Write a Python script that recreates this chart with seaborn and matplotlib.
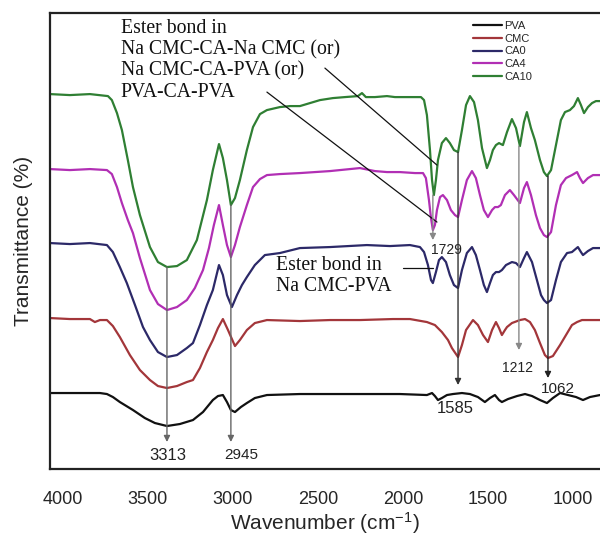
import numpy as np
import pandas as pd
import matplotlib
matplotlib.use("Agg")
import matplotlib.pyplot as plt
import seaborn as sns

# FTIR spectra (wavenumber in cm-1, transmittance in a.u., curves stacked)
wn_pva = [4076, 3900, 3782, 3741, 3706, 3665, 3588, 3518, 3459, 3388, 3312, 3235, 3176, 3118, 3088,
          3059, 3035, 3012, 2988, 2953, 2918, 2871, 2800, 2606, 2312, 2018, 1859, 1829, 1812, 1794,
          1771, 1741, 1706, 1653, 1606, 1559, 1518, 1488, 1459, 1435, 1418, 1382, 1329, 1282, 1241,
          1194, 1153, 1118, 1076, 1029, 982, 941, 900, 841]
t_pva = [76, 76, 76, 75, 72, 67, 59, 51, 46, 43, 45, 49, 57, 69, 73,
         74, 67, 59, 57, 62, 66, 71, 74, 75, 75, 75, 74, 76, 73, 69,
         71, 74, 75, 76, 75, 72, 67, 71, 74, 69, 67, 70, 73, 75, 73,
         69, 66, 71, 76, 74, 72, 69, 72, 74]

wn_cmc = [4076, 3959, 3841, 3812, 3782, 3741, 3706, 3665, 3606, 3547, 3488, 3441, 3388, 3329, 3271,
          3235, 3194, 3153, 3118, 3088, 3059, 3029, 2988, 2959, 2918, 2871, 2800, 2606, 2429, 2253,
          2059, 1959, 1859, 1812, 1771, 1735, 1712, 1676, 1653, 1629, 1588, 1559, 1529, 1500, 1476,
          1453, 1435, 1418, 1400, 1388, 1359, 1312, 1282, 1253, 1224, 1194, 1165, 1147, 1118, 1076,
          1041, 1006, 976, 947, 900, 841]
t_cmc = [151, 150, 150, 147, 149, 149, 143, 132, 114, 99, 89, 83, 81, 83, 87,
         89, 101, 117, 129, 141, 150, 139, 123, 129, 139, 146, 149, 148, 149, 149,
         150, 150, 147, 144, 137, 129, 121, 112, 124, 139, 149, 144, 134, 127, 139,
         147, 141, 134, 139, 142, 146, 149, 150, 147, 139, 126, 114, 111, 113, 124,
         134, 144, 147, 149, 149, 149]

wn_ca0 = [4076, 3959, 3841, 3741, 3706, 3665, 3624, 3576, 3529, 3488, 3441, 3388, 3329, 3271, 3235,
          3194, 3153, 3118, 3082, 3059, 3035, 3006, 2976, 2947, 2918, 2871, 2812, 2724, 2606, 2429,
          2212, 2076, 1959, 1900, 1876, 1853, 1835, 1824, 1806, 1788, 1771, 1747, 1724, 1700, 1676,
          1653, 1624, 1594, 1571, 1547, 1524, 1506, 1488, 1471, 1453, 1435, 1418, 1394, 1359, 1335,
          1312, 1288, 1271, 1241, 1212, 1188, 1171, 1153, 1129, 1100, 1071, 1035, 1006, 971, 953,
          941, 912, 882, 841]
t_ca0 = [226, 225, 226, 224, 217, 202, 186, 164, 142, 129, 117, 112, 114, 121, 126,
         144, 164, 179, 204, 194, 174, 162, 174, 184, 192, 204, 214, 216, 221, 222,
         224, 223, 224, 222, 217, 204, 189, 186, 197, 209, 212, 207, 194, 184, 181,
         199, 216, 222, 214, 199, 184, 177, 186, 194, 197, 197, 199, 204, 207, 206,
         202, 211, 217, 207, 189, 174, 169, 166, 169, 189, 207, 216, 217, 222, 217,
         214, 218, 221, 221]

wn_ca4 = [4076, 3959, 3841, 3741, 3712, 3682, 3653, 3618, 3588, 3547, 3488, 3441, 3388, 3329, 3271,
          3224, 3176, 3141, 3112, 3082, 3059, 3035, 3012, 2988, 2959, 2918, 2882, 2841, 2800, 2724,
          2606, 2429, 2253, 2165, 2094, 2018, 1929, 1882, 1865, 1847, 1835, 1824, 1812, 1800, 1782,
          1765, 1741, 1718, 1694, 1676, 1653, 1624, 1594, 1571, 1547, 1524, 1500, 1476, 1459, 1441,
          1424, 1400, 1371, 1347, 1312, 1288, 1271, 1247, 1218, 1194, 1171, 1153, 1129, 1100, 1071,
          1041, 1006, 976, 959, 941, 912, 882, 841]
t_ca4 = [300, 299, 300, 299, 295, 282, 266, 249, 236, 211, 179, 165, 159, 162, 169,
         181, 199, 221, 244, 264, 244, 224, 212, 224, 242, 264, 282, 290, 294, 295,
         296, 298, 301, 298, 297, 297, 296, 296, 291, 269, 251, 239, 244, 259, 272,
         274, 269, 259, 254, 252, 269, 289, 298, 291, 274, 259, 252, 259, 262, 262,
         264, 274, 279, 274, 266, 281, 287, 274, 254, 241, 234, 232, 237, 264, 284,
         291, 294, 297, 291, 286, 291, 294, 294]

wn_ca10 = [4076, 3959, 3841, 3735, 3712, 3682, 3653, 3618, 3588, 3547, 3488, 3441, 3388, 3329, 3271,
           3212, 3153, 3118, 3082, 3059, 3035, 3012, 2988, 2959, 2918, 2882, 2841, 2800, 2724, 2665,
           2606, 2488, 2412, 2341, 2265, 2241, 2218, 2165, 2094, 2047, 1959, 1894, 1876, 1859, 1841,
           1829, 1818, 1806, 1794, 1771, 1747, 1724, 1700, 1676, 1653, 1629, 1606, 1582, 1559, 1535,
           1506, 1488, 1471, 1453, 1435, 1412, 1388, 1359, 1335, 1312, 1288, 1271, 1247, 1224, 1194,
           1171, 1153, 1129, 1100, 1071, 1047, 1018, 994, 971, 953, 935, 912, 888, 865, 841]
t_ca10 = [375, 374, 375, 373, 369, 356, 339, 309, 282, 254, 222, 207, 202, 203, 209,
          229, 269, 299, 325, 311, 289, 264, 271, 289, 319, 342, 355, 359, 362, 363,
          363, 369, 371, 372, 373, 376, 372, 372, 373, 372, 372, 372, 369, 354, 319,
          289, 274, 289, 309, 326, 331, 326, 319, 317, 339, 364, 373, 367, 349, 321,
          301, 309, 319, 324, 326, 324, 337, 350, 341, 323, 347, 357, 341, 329, 309,
          297, 293, 299, 324, 349, 357, 359, 363, 371, 364, 356, 362, 366, 368, 368]

samples = ["PVA", "CMC", "CA0", "CA4", "CA10"]
colors = ["#111111", "#a3363a", "#2c2968", "#b12fb4", "#2f7f33"]

df = pd.concat([
    pd.DataFrame({"wavenumber": wn_pva, "T": t_pva, "sample": "PVA"}),
    pd.DataFrame({"wavenumber": wn_cmc, "T": t_cmc, "sample": "CMC"}),
    pd.DataFrame({"wavenumber": wn_ca0, "T": t_ca0, "sample": "CA0"}),
    pd.DataFrame({"wavenumber": wn_ca4, "T": t_ca4, "sample": "CA4"}),
    pd.DataFrame({"wavenumber": wn_ca10, "T": t_ca10, "sample": "CA10"}),
], ignore_index=True)

sns.set_style("white")
plt.rcParams['font.family'] = ['Liberation Sans', 'DejaVu Sans']
plt.rcParams['mathtext.default'] = 'regular'

fig = plt.figure(figsize=(6, 5.37), dpi=100)
ax = fig.add_axes([0.0833, 0.1266, 0.9167, 0.849])

sns.lineplot(data=df, x="wavenumber", y="T", hue="sample", hue_order=samples,
             palette=colors, sort=False, estimator=None, linewidth=1.6, ax=ax)

ax.set_xlim(4076, 841)
ax.set_ylim(0, 456)
ax.set_xticks([4000, 3500, 3000, 2500, 2000, 1500, 1000])
ax.set_yticks([])
ax.tick_params(axis="x", length=0, pad=16, labelsize=13)
ax.set_xlabel("Wavenumber (cm$^{-1}$)", fontsize=15, labelpad=1)
ax.set_ylabel("Transmittance (%)", fontsize=15, labelpad=12)
for side in ["left", "bottom", "top"]:
    ax.spines[side].set_color("#222222")
    ax.spines[side].set_linewidth(1.6)
ax.spines["right"].set_visible(False)

ax.legend(loc="upper left", bbox_to_anchor=(0.755, 1.0), frameon=False, fontsize=8,
          handlelength=2.6, labelspacing=0.25, handletextpad=0.2, borderpad=0.2)

# peak markers: vertical lines with arrow heads
peaks = [
    # x, start, tip, label, label_x, label_y, size, color
    (3388, 202, 27, "3313", 3382, 14, 12, "#666666"),
    (3012, 264, 27, "2945", 2953, 14, 11, "#666666"),
    (1824, 274, 229, "1729", 1747, 219, 10, "#888888"),
    (1676, 317, 84, "1585", 1694, 61, 12, "#333333"),
    (1318, 323, 119, "1212", 1324, 101, 10, "#888888"),
    (1147, 293, 91, "1062", 1088, 80, 11, "#222222"),
]
for x, y0, y1, lab, lx, ly, fs, col in peaks:
    ax.annotate("", xy=(x, y1), xytext=(x, y0),
                arrowprops=dict(arrowstyle="-|>", color=col, lw=1.0, mutation_scale=9,
                                shrinkA=0, shrinkB=0))
    ax.text(lx, ly, lab, ha="center", va="center", fontsize=fs, color="#222222")

serif = ["Liberation Serif", "DejaVu Serif"]
ax.text(3659, 450, "Ester bond in\nNa CMC-CA-Na CMC (or)\nNa CMC-CA-PVA (or)\nPVA-CA-PVA",
        ha="left", va="top", fontsize=14.2, family=serif, linespacing=1.14, color="#111111")
ax.text(2747, 213, "Ester bond in\nNa CMC-PVA", ha="left", va="top", fontsize=14.2,
        family=serif, linespacing=1.12, color="#111111")

ax.plot([2459, 1800], [401, 304], color="#111111", lw=0.9)
ax.plot([2800, 1800], [377, 247], color="#111111", lw=0.9)
ax.plot([2000, 1824], [201, 201], color="#111111", lw=0.9)

fig.savefig("out.png", dpi=100)
